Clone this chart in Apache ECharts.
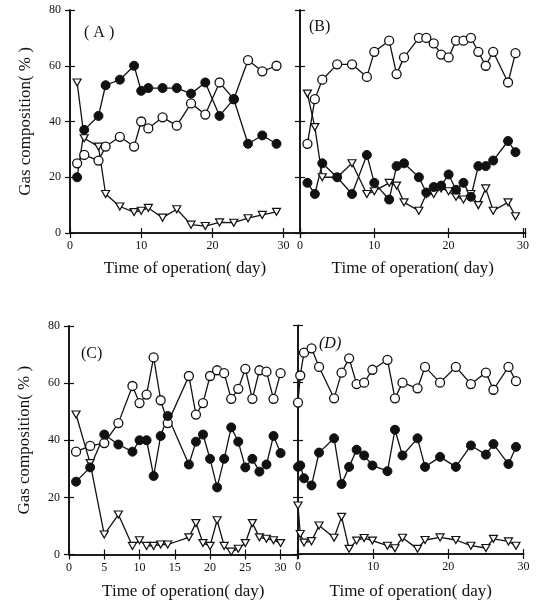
<!DOCTYPE html>
<html>
<head>
<meta charset="utf-8">
<script src="https://cdn.jsdelivr.net/npm/echarts@6/dist/echarts.min.js"></script>
<style>
  html, body { margin: 0; padding: 0; background: #fff; }
  #chart { width: 541px; height: 605px; }
</style>
</head>
<body>
<div id="chart"></div>
<script>
// values (day, gas %)
// ● filled circles, ○ open circles, ▽ open triangles
const daysA   = [1, 2, 4, 5, 7, 9, 10, 11, 13, 15, 17, 19, 21, 23, 25, 27, 29]
const filledA = [20, 37, 42, 53, 55, 60, 51, 52, 52, 52, 50, 54, 42, 48, 32, 35, 32]
const openA   = [25, 28, 26, 31, 34.5, 31, 40, 37.5, 41.5, 38.5, 46.5, 42.5, 54, 48, 62, 58, 60]
const triA    = [54, 34, 31, 14, 9.5, 7.5, 8, 9, 5.5, 8.5, 3, 2.5, 3.8, 3.7, 5.3, 6.5, 7.6]

const daysB   = [1, 2, 3, 5, 7, 9, 10, 12, 13, 14, 16, 17, 18, 19, 20, 21, 22, 23, 24, 25, 26, 28, 29]
const openB   = [32, 48, 55, 60.5, 60.5, 56, 65, 69, 57, 63, 70, 70, 68, 64, 63, 69, 69, 70, 65, 60, 65, 54, 64.5]
const filledB = [18, 14, 25, 20, 14, 28, 18, 12, 24, 25, 20, 14.5, 16.5, 17, 21, 15.5, 18, 13, 24, 24, 26, 33, 29]
const triB    = [50, 38, 20, 20, 25, 14, 15, 18, 17, 11, 8, 14, 14, 16, 15, 13, 12, 14, 10, 16, 8, 11, 6]

const daysC   = [1, 3, 5, 7, 9, 10, 11, 12, 13, 14, 17, 18, 19, 20, 21, 22, 23, 24, 25, 26, 27, 28, 29, 30]
const openC   = [36, 38, 39, 46, 59, 53, 56, 69, 54, 46, 62.5, 49, 53, 62.5, 64.5, 63.5, 54.5, 58, 65, 54.5, 64.5, 64, 54.5, 63.5]
const filledC = [25.5, 30.5, 42, 38.5, 36, 40, 40, 27.5, 41.5, 48.5, 31.5, 39.5, 42, 33.5, 23.5, 33.5, 44.5, 39.5, 30.5, 33.5, 29, 31.5, 41.5, 35.5]
const triC    = [49, 32, 7, 14, 3, 5, 3, 3, 3.5, 3.5, 6, 11, 4, 3, 12, 3, 1, 2, 4, 11, 6, 5.5, 5, 4]

const daysD   = [0, 0.3, 0.8, 1.8, 2.8, 4.8, 5.8, 6.8, 7.8, 8.8, 9.9, 11.9, 12.9, 13.9, 15.9, 16.9, 18.9, 21, 23, 25, 26, 28, 29]
const openD   = [53, 62.5, 70.5, 72, 65.5, 54.5, 63.5, 68.5, 59.5, 60, 64.5, 68, 54.5, 60, 58, 65.5, 60, 65.5, 59.5, 63.5, 57.5, 65.5, 60.5]
const filledD = [30.5, 31, 26.5, 24, 35.5, 40.5, 24.5, 30.5, 36.5, 34.5, 31, 29, 43.5, 34.5, 40.5, 30.5, 34, 30.5, 38, 34.8, 38.5, 31.5, 37.5]
const triD    = [17, 7, 4, 4.5, 10, 5.7, 13, 1.8, 4.7, 5.6, 4.7, 2.9, 2, 5.7, 1.8, 4.9, 5.8, 4.9, 2.9, 2.1, 5.3, 4.4, 2.9]

const yTicks = [0, 80, 20]   // min, max, step
const xName = 'Time of operation( day)'
const yName = 'Gas composition( % )'

const FONT = '"Liberation Serif", "DejaVu Serif", serif'

// frame of each panel in px, x range and which side carries the labels
const panels = [
  { label: '( A )', lx: 84, ly: 25, left: 70, top: 10, width: 230, height: 223, xMax: 32.3, xStep: 10, yLabels: true, gap: 27,
    days: daysA, filled: filledA, open: openA, tri: triA },
  { label: '(B)', lx: 309, ly: 19, left: 300, top: 10, width: 225.5, height: 223, xMax: 30.35, xStep: 10, yLabels: false, gap: 27,
    days: daysB, filled: filledB, open: openB, tri: triB },
  { label: '(C)', lx: 81, ly: 346, left: 69, top: 326, width: 228.5, height: 228.5, xMax: 32.4, xStep: 5, yLabels: true, gap: 29,
    days: daysC, filled: filledC, open: openC, tri: triC },
  { label: '(D)', lx: 319, ly: 336, left: 298, top: 325.5, width: 225.5, height: 228.5, xMax: 30, xStep: 10, yLabels: false, gap: 29,
    days: daysD, filled: filledD, open: openD, tri: triD, italic: true }
]

const axisLine = { show: true, lineStyle: { color: '#111', width: 1.6 } }
const axisTick = { show: true, inside: true, length: 5, lineStyle: { color: '#111', width: 1.2 } }
const labelFont = { color: '#111', fontFamily: FONT, fontSize: 12 }
const nameFont = { color: '#111', fontFamily: FONT, fontSize: 17 }

const grid = [], xAxis = [], yAxis = [], series = [], graphic = []

panels.forEach((p, i) => {
  grid.push({ left: p.left, top: p.top, width: p.width, height: p.height })

  const xBase = {
    gridIndex: i, type: 'value', min: 0, max: p.xMax, interval: p.xStep,
    axisLine, axisTick, splitLine: { show: false }
  }
  xAxis.push(Object.assign({}, xBase, {
    position: 'bottom',
    axisLabel: Object.assign({}, labelFont, {
      margin: 7,
      formatter: v => (v % p.xStep === 0 && v <= 30 ? String(v) : '')
    }),
    name: xName, nameLocation: 'middle', nameGap: p.gap, nameTextStyle: nameFont
  }))
  xAxis.push(Object.assign({}, xBase, { position: 'top', axisLabel: { show: false } }))

  const yBase = {
    gridIndex: i, type: 'value', min: yTicks[0], max: yTicks[1], interval: yTicks[2],
    axisLine, axisTick, splitLine: { show: false }
  }
  yAxis.push(Object.assign({}, yBase, {
    position: 'left',
    axisLabel: Object.assign({ show: p.yLabels, margin: 9 }, labelFont),
    name: p.yLabels ? yName : '', nameLocation: 'middle', nameGap: 36, nameRotate: 90,
    nameTextStyle: nameFont
  }))
  yAxis.push(Object.assign({}, yBase, { position: 'right', axisLabel: { show: false } }))

  const pts = vals => p.days.map((d, k) => [d, vals[k]])
  const common = {
    type: 'line', xAxisIndex: 2 * i, yAxisIndex: 2 * i,
    lineStyle: { color: '#111', width: 1.3 }, showAllSymbol: true, animation: false
  }
  series.push(Object.assign({}, common, {
    name: 'tri' + i, data: pts(p.tri), symbol: 'triangle', symbolRotate: 180, symbolSize: [8, 7],
    itemStyle: { color: '#fff', borderColor: '#111', borderWidth: 1.2 }
  }))
  series.push(Object.assign({}, common, {
    name: 'open' + i, data: pts(p.open), symbol: 'circle', symbolSize: 9,
    itemStyle: { color: '#fff', borderColor: '#111', borderWidth: 1.3 }
  }))
  series.push(Object.assign({}, common, {
    name: 'filled' + i, data: pts(p.filled), symbol: 'circle', symbolSize: 9,
    itemStyle: { color: '#111', borderColor: '#111', borderWidth: 1 }
  }))

  graphic.push({
    type: 'text', left: p.lx, top: p.ly,
    style: { text: p.label, fill: '#111', font: (p.italic ? 'italic ' : '') + '16px ' + FONT }
  })
})

const chart = echarts.init(document.getElementById('chart'))
chart.setOption({
  animation: false,
  backgroundColor: '#fff',
  grid, xAxis, yAxis, series, graphic
})
window.addEventListener('resize', () => chart.resize())
</script>
</body>
</html>
